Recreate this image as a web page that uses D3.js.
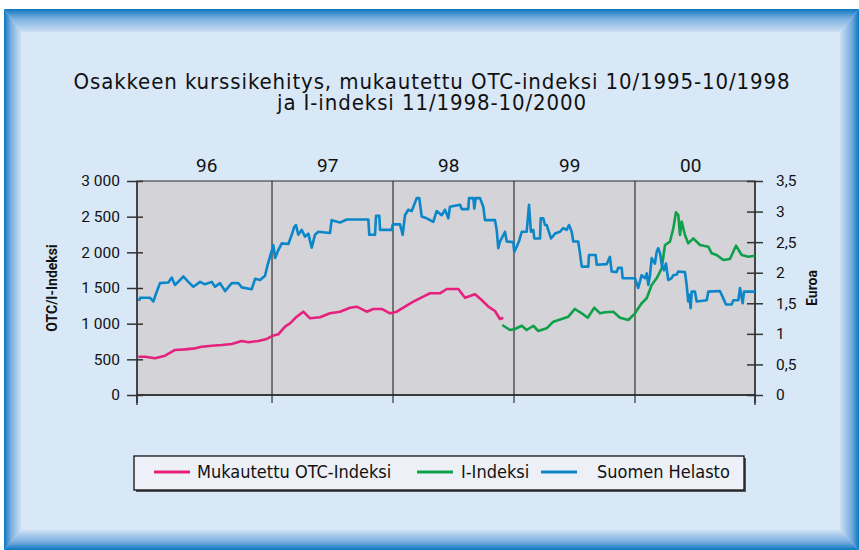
<!DOCTYPE html>
<html>
<head>
<meta charset="utf-8">
<script src="https://cdn.jsdelivr.net/npm/d3@7"></script>
<style>
  body { margin: 0; background: #fff; }
  svg { display: block; }
</style>
</head>
<body>
<div id="chart"></div>
<script>
// Chart size
const width = 859;
const height = 550;

// Data: [decimal year, value]
const otcSeries = [
  [1995.895, 537], [1995.950, 537], [1996.033, 514], [1996.116, 551], [1996.198, 631],
  [1996.281, 640], [1996.364, 654], [1996.419, 677], [1996.502, 691], [1996.584, 701],
  [1996.667, 715], [1996.750, 757], [1996.804, 739], [1996.887, 757], [1996.956, 785],
  [1996.998, 827], [1997.052, 851], [1997.107, 958], [1997.149, 1005], [1997.204, 1098],
  [1997.259, 1168], [1997.314, 1075], [1997.397, 1089], [1997.479, 1145], [1997.562, 1168],
  [1997.645, 1224], [1997.700, 1238], [1997.783, 1168], [1997.837, 1206], [1997.907, 1206],
  [1997.975, 1145], [1998.031, 1168], [1998.099, 1238], [1998.168, 1308], [1998.250, 1378],
  [1998.306, 1426], [1998.388, 1426], [1998.444, 1486], [1998.485, 1486], [1998.540, 1486],
  [1998.595, 1364], [1998.678, 1412], [1998.733, 1332], [1998.788, 1238], [1998.843, 1178],
  [1998.884, 1066], [1998.912, 1084]
];

const iSeries = [
  [1998.903, 981], [1998.967, 911], [1999.008, 925], [1999.064, 971], [1999.105, 911],
  [1999.160, 971], [1999.201, 897], [1999.270, 935], [1999.325, 1028], [1999.394, 1066],
  [1999.449, 1098], [1999.504, 1206], [1999.560, 1145], [1999.609, 1084], [1999.664, 1224],
  [1999.711, 1145], [1999.752, 1159], [1999.821, 1168], [1999.876, 1084], [1999.945, 1052],
  [2000.000, 1145], [2000.055, 1286], [2000.097, 1356], [2000.138, 1542], [2000.179, 1636],
  [2000.221, 1776], [2000.248, 2103], [2000.289, 2149], [2000.317, 2337], [2000.339, 2561],
  [2000.358, 2523], [2000.372, 2243], [2000.386, 2430], [2000.413, 2243], [2000.440, 2126],
  [2000.482, 2196], [2000.537, 2103], [2000.606, 2079], [2000.634, 1986], [2000.675, 1963],
  [2000.730, 1893], [2000.785, 1907], [2000.835, 2093], [2000.882, 1963], [2000.937, 1939],
  [2000.992, 1953]
];

const helastoSeries = [
  [1995.901, 1.54], [1995.909, 1.59], [1995.992, 1.59], [1996.019, 1.53], [1996.047, 1.69],
  [1996.074, 1.83], [1996.143, 1.84], [1996.171, 1.92], [1996.198, 1.80], [1996.240, 1.88],
  [1996.267, 1.94], [1996.308, 1.85], [1996.350, 1.77], [1996.405, 1.85], [1996.446, 1.81],
  [1996.502, 1.85], [1996.529, 1.77], [1996.570, 1.83], [1996.612, 1.70], [1996.667, 1.83],
  [1996.721, 1.83], [1996.750, 1.76], [1996.832, 1.73], [1996.860, 1.90], [1996.901, 1.88],
  [1996.942, 1.95], [1996.964, 2.13], [1996.992, 2.32], [1997.011, 2.45], [1997.025, 2.24],
  [1997.052, 2.37], [1997.080, 2.48], [1997.135, 2.47], [1997.163, 2.62], [1997.184, 2.75],
  [1997.198, 2.78], [1997.217, 2.62], [1997.245, 2.70], [1997.273, 2.59], [1997.300, 2.64],
  [1997.328, 2.41], [1997.355, 2.62], [1997.383, 2.67], [1997.479, 2.65], [1997.493, 2.86],
  [1997.562, 2.82], [1997.617, 2.87], [1997.796, 2.87], [1997.804, 2.62], [1997.851, 2.62],
  [1997.860, 2.93], [1997.887, 2.93], [1997.893, 2.70], [1997.989, 2.70], [1997.998, 2.79],
  [1998.058, 2.79], [1998.080, 2.62], [1998.099, 2.94], [1998.126, 3.03], [1998.155, 3.01],
  [1998.196, 3.22], [1998.217, 3.22], [1998.237, 2.92], [1998.279, 2.89], [1998.333, 2.83],
  [1998.361, 3.01], [1998.402, 2.94], [1998.430, 3.03], [1998.457, 2.89], [1998.471, 3.08],
  [1998.554, 3.11], [1998.568, 3.04], [1998.622, 3.04], [1998.628, 3.22], [1998.664, 3.22],
  [1998.672, 3.05], [1998.684, 3.22], [1998.719, 3.22], [1998.746, 3.08], [1998.760, 2.86],
  [1998.843, 2.86], [1998.857, 2.70], [1998.870, 2.40], [1998.884, 2.51], [1998.926, 2.67],
  [1998.940, 2.51], [1998.994, 2.50], [1999.002, 2.34], [1999.041, 2.51], [1999.064, 2.67],
  [1999.105, 2.67], [1999.124, 3.11], [1999.140, 2.67], [1999.160, 2.70], [1999.168, 2.56],
  [1999.215, 2.56], [1999.221, 2.89], [1999.242, 2.89], [1999.256, 2.78], [1999.270, 2.78],
  [1999.306, 2.56], [1999.339, 2.64], [1999.380, 2.67], [1999.407, 2.73], [1999.435, 2.70],
  [1999.455, 2.78], [1999.477, 2.67], [1999.490, 2.51], [1999.531, 2.51], [1999.545, 2.32],
  [1999.560, 2.10], [1999.614, 2.10], [1999.620, 2.29], [1999.675, 2.29], [1999.684, 2.13],
  [1999.766, 2.14], [1999.793, 2.26], [1999.807, 2.02], [1999.848, 2.01], [1999.862, 2.08],
  [1999.890, 2.08], [1999.898, 1.91], [2000.000, 1.91], [2000.027, 1.75], [2000.055, 1.96],
  [2000.083, 1.91], [2000.097, 1.99], [2000.110, 1.80], [2000.124, 1.96], [2000.138, 2.24],
  [2000.165, 2.15], [2000.179, 2.34], [2000.192, 2.40], [2000.207, 2.32], [2000.221, 2.13],
  [2000.240, 2.04], [2000.256, 2.15], [2000.275, 1.88], [2000.303, 1.91], [2000.317, 1.96],
  [2000.345, 1.97], [2000.358, 2.02], [2000.413, 2.01], [2000.427, 1.80], [2000.440, 1.53],
  [2000.449, 1.64], [2000.460, 1.42], [2000.469, 1.69], [2000.496, 1.69], [2000.510, 1.53],
  [2000.593, 1.55], [2000.606, 1.69], [2000.702, 1.70], [2000.730, 1.58], [2000.752, 1.48],
  [2000.799, 1.48], [2000.813, 1.55], [2000.854, 1.55], [2000.868, 1.75], [2000.890, 1.50],
  [2000.901, 1.69], [2000.992, 1.69]
];

// Year dividers and labels
const yearBreaks = [1997, 1998, 1999, 2000];
const yearLabels = ["96", "97", "98", "99", "00"];
const leftTicks = [0, 500, 1000, 1500, 2000, 2500, 3000];
const rightTicks = [0, 0.5, 1, 1.5, 2, 2.5, 3, 3.5];

const titleLines = [
  "Osakkeen kurssikehitys, mukautettu OTC-indeksi 10/1995-10/1998",
  "ja I-indeksi 11/1998-10/2000"
];
const legendItems = [
  { name: "Mukautettu OTC-Indeksi", color: "#e5217d" },
  { name: "I-Indeksi", color: "#10a04a" },
  { name: "Suomen Helasto", color: "#0b86c8" }
];

const svg = d3.select("#chart")
  .append("svg")
  .attr("width", width)
  .attr("height", height);

// ---- bevelled blue frame ----
const defs = svg.append("defs");
function grad(id, x1, y1, x2, y2) {
  const g = defs.append("linearGradient").attr("id", id)
    .attr("x1", x1).attr("y1", y1).attr("x2", x2).attr("y2", y2);
  g.append("stop").attr("offset", "0%").attr("stop-color", "#0a77c1");
  g.append("stop").attr("offset", "40%").attr("stop-color", "#78addf");
  g.append("stop").attr("offset", "100%").attr("stop-color", "#cde0f4");
}
grad("gTop", 0, 0, 0, 1);
grad("gBot", 0, 1, 0, 0);
grad("gLeft", 0, 0, 1, 0);
grad("gRight", 1, 0, 0, 0);

const fx0 = 4, fy0 = 9, fx1 = 859, fy1 = 550;
const bl = 17, br = 19, bt = 23, bb = 20;

svg.append("rect")
  .attr("x", fx0).attr("y", fy0)
  .attr("width", fx1 - fx0).attr("height", fy1 - fy0)
  .attr("fill", "#d9e8f7");

const bevels = [
  { fill: "url(#gTop)", pts: [[fx0, fy0], [fx1, fy0], [fx1 - br, fy0 + bt], [fx0 + bl, fy0 + bt]] },
  { fill: "url(#gBot)", pts: [[fx0, fy1], [fx1, fy1], [fx1 - br, fy1 - bb], [fx0 + bl, fy1 - bb]] },
  { fill: "url(#gLeft)", pts: [[fx0, fy0], [fx0 + bl, fy0 + bt], [fx0 + bl, fy1 - bb], [fx0, fy1]] },
  { fill: "url(#gRight)", pts: [[fx1, fy0], [fx1 - br, fy0 + bt], [fx1 - br, fy1 - bb], [fx1, fy1]] }
];
svg.selectAll("polygon.bevel")
  .data(bevels)
  .enter().append("polygon")
  .attr("class", "bevel")
  .attr("points", d => d.pts.map(p => p.join(",")).join(" "))
  .attr("fill", d => d.fill);

// ---- title (two lines) ----
svg.selectAll("text.title")
  .data(titleLines)
  .enter().append("text")
  .attr("class", "title")
  .attr("x", 432)
  .attr("y", (d, i) => 89 + i * 21)
  .attr("text-anchor", "middle")
  .style("font-family", "'DejaVu Sans Condensed', 'Liberation Sans Narrow', sans-serif")
  .style("font-size", "22px")
  .style("letter-spacing", "0.9px")
  .style("fill", "#111")
  .text(d => d);

// ---- scales ----
const plotLeft = 137, plotRight = 755, plotTop = 181, plotBottom = 395;

const x = d3.scaleLinear()
  .domain([1995.884, 2000.992])
  .range([plotLeft, plotRight]);

const yLeft = d3.scaleLinear()
  .domain([0, 3000])
  .range([plotBottom, plotTop]);

const yRight = d3.scaleLinear()
  .domain([0, 3.5])
  .range([plotBottom, plotTop]);

// plot background
svg.append("rect")
  .attr("x", plotLeft).attr("y", plotTop)
  .attr("width", plotRight - plotLeft).attr("height", plotBottom - plotTop)
  .attr("fill", "#d4d3d8")
  .attr("stroke", "#2a2a2a")
  .attr("stroke-width", 1);

// year divider lines (with tick below axis)
svg.selectAll("line.divider")
  .data(yearBreaks)
  .enter().append("line")
  .attr("class", "divider")
  .attr("x1", d => x(d)).attr("x2", d => x(d))
  .attr("y1", plotTop).attr("y2", plotBottom + 8)
  .attr("stroke", "#333")
  .attr("stroke-width", 1.2);

// bottom axis line + edge ticks
svg.append("line")
  .attr("x1", plotLeft).attr("x2", plotRight)
  .attr("y1", plotBottom).attr("y2", plotBottom)
  .attr("stroke", "#222").attr("stroke-width", 1.3);
svg.selectAll("line.edgeTick")
  .data(x.domain())
  .enter().append("line")
  .attr("class", "edgeTick")
  .attr("x1", d => x(d)).attr("x2", d => x(d))
  .attr("y1", plotBottom).attr("y2", plotBottom + 8)
  .attr("stroke", "#222").attr("stroke-width", 1.3);

// year labels above the plot
svg.selectAll("text.year")
  .data(yearLabels)
  .enter().append("text")
  .attr("class", "year")
  .attr("x", (d, i) => x(1996 + i + 0.46))
  .attr("y", 172)
  .attr("text-anchor", "middle")
  .style("font-family", "Roboto, sans-serif")
  .style("font-size", "19px")
  .style("fill", "#111")
  .text(d => d);

// ---- axes ----
const tickFont = "Roboto, sans-serif";

const leftAxis = svg.append("g")
  .attr("transform", `translate(${plotLeft},0)`)
  .call(d3.axisLeft(yLeft)
    .tickValues(leftTicks)
    .tickSize(10)
    .tickPadding(7)
    .tickFormat(d => d3.format(",")(d).replace(",", " ")));
leftAxis.select(".domain").attr("d", `M0,${plotTop}V${plotBottom + 10}`).attr("stroke", "#222").attr("stroke-width", 1.3);
leftAxis.selectAll(".tick line").attr("x2", -10).attr("x1", 6).attr("stroke", "#333").attr("stroke-width", 1.5);
leftAxis.selectAll(".tick text")
  .style("font-family", tickFont).style("font-size", "15.5px").style("fill", "#111");

const rightAxis = svg.append("g")
  .attr("transform", `translate(${plotRight},0)`)
  .call(d3.axisRight(yRight)
    .tickValues(rightTicks)
    .tickSize(8)
    .tickPadding(13)
    .tickFormat(d => String(d).replace(".", ",")));
rightAxis.select(".domain").attr("d", `M0,${plotTop}V${plotBottom + 10}`).attr("stroke", "#222").attr("stroke-width", 1.3);
rightAxis.selectAll(".tick line").attr("x1", -8).attr("x2", 8).attr("stroke", "#333").attr("stroke-width", 1.5);
rightAxis.selectAll(".tick text")
  .style("font-family", tickFont).style("font-size", "15.5px").style("fill", "#111");

// axis titles
svg.append("text")
  .attr("transform", "translate(57,288) rotate(-90)")
  .attr("text-anchor", "middle")
  .style("font-family", "Roboto, sans-serif")
  .style("font-weight", "bold")
  .style("font-size", "14px")
  .style("fill", "#111")
  .text("OTC/I-Indeksi");

svg.append("text")
  .attr("transform", "translate(817,288) rotate(-90)")
  .attr("text-anchor", "middle")
  .style("font-family", "Roboto, sans-serif")
  .style("font-weight", "bold")
  .style("font-size", "14px")
  .style("fill", "#111")
  .text("Euroa");

// ---- lines ----
const lineLeft = d3.line().x(d => x(d[0])).y(d => yLeft(d[1]));
const lineRight = d3.line().x(d => x(d[0])).y(d => yRight(d[1]));

svg.append("path")
  .datum(otcSeries)
  .attr("d", lineLeft)
  .attr("fill", "none")
  .attr("stroke", legendItems[0].color)
  .attr("stroke-width", 2.6)
  .attr("stroke-linejoin", "round");

svg.append("path")
  .datum(iSeries)
  .attr("d", lineLeft)
  .attr("fill", "none")
  .attr("stroke", legendItems[1].color)
  .attr("stroke-width", 2.6)
  .attr("stroke-linejoin", "round");

svg.append("path")
  .datum(helastoSeries)
  .attr("d", lineRight)
  .attr("fill", "none")
  .attr("stroke", legendItems[2].color)
  .attr("stroke-width", 2.6)
  .attr("stroke-linejoin", "round");

// ---- legend ----
const legend = svg.append("g");
legend.append("rect")
  .attr("x", 136).attr("y", 458)
  .attr("width", 610).attr("height", 34)
  .attr("fill", "#555");
legend.append("rect")
  .attr("x", 134).attr("y", 456)
  .attr("width", 610).attr("height", 34)
  .attr("fill", "#eef0f8")
  .attr("stroke", "#111")
  .attr("stroke-width", 1.3);

const legendPos = [
  { lx: 154, tx: 197 },
  { lx: 417, tx: 461 },
  { lx: 541, tx: 597 }
];
legendItems.forEach((item, i) => {
  legend.append("line")
    .attr("x1", legendPos[i].lx).attr("x2", legendPos[i].lx + 36)
    .attr("y1", 472).attr("y2", 472)
    .attr("stroke", item.color)
    .attr("stroke-width", 3);
  legend.append("text")
    .attr("x", legendPos[i].tx)
    .attr("y", 478)
    .style("font-family", "'DejaVu Sans Condensed', 'Liberation Sans Narrow', sans-serif")
    .style("font-size", "18px")
    .style("fill", "#111")
    .text(item.name);
});
</script>
</body>
</html>
